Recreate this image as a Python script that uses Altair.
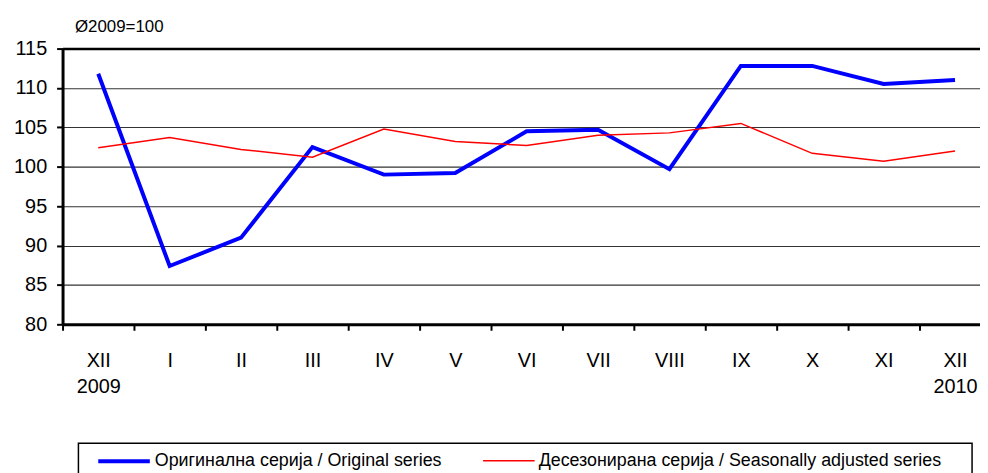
import json
import altair as alt
import pandas as pd

# ---- data ----
months = ["XII", "I", "II", "III", "IV", "V", "VI", "VII", "VIII", "IX", "X", "XI", "XII"]
years = {0: "2009", 12: "2010"}
original = [111.8, 87.4, 91.0, 102.5, 99.0, 99.2, 104.5, 104.7, 99.7, 112.8, 112.8, 110.5, 111.0]
adjusted = [102.4, 103.7, 102.2, 101.2, 104.8, 103.2, 102.7, 104.0, 104.3, 105.5, 101.7, 100.7, 102.0]
series_names = ["Оригинална серија / Original series",
                "Десезонирана серија / Seasonally adjusted series"]
y_ticks = [80, 85, 90, 95, 100, 105, 110, 115]
base_label = "Ø2009=100"

rows = []
for i, (o, a) in enumerate(zip(original, adjusted)):
    rows.append({"idx": i, "value": o, "series": series_names[0]})
    rows.append({"idx": i, "value": a, "series": series_names[1]})
df = pd.DataFrame(rows)

labels = [[m, years[i]] if i in years else m for i, m in enumerate(months)]
label_expr = json.dumps(labels, ensure_ascii=False) + "[round(datum.value + 0.5)]"

FONT = "Liberation Sans"

x_enc = alt.X(
    "idx:Q",
    scale=alt.Scale(domain=[-0.5, 12.35], nice=False, zero=False),
    axis=alt.Axis(
        values=[i - 0.5 for i in range(len(months))],
        labelExpr=label_expr,
        labelOffset=36,
        title=None,
        grid=False,
        tickSize=6,
        tickColor="black",
        tickWidth=2,
        domainColor="black",
        domainWidth=3,
        labelPadding=21,
        labelFontSize=20,
        labelLineHeight=26,
        labelColor="black",
        labelFont=FONT,
        labelFlush=False,
        labelOverlap=False,
        labelBound=False,
    ),
)

y_enc = alt.Y(
    "value:Q",
    scale=alt.Scale(domain=[80, 115], nice=False, zero=False),
    axis=alt.Axis(
        values=y_ticks,
        title=base_label,
        titleAngle=0,
        titleX=12,
        titleY=-22,
        titleAlign="left",
        titleBaseline="middle",
        titleFontSize=17,
        titleFontWeight="normal",
        titleFont=FONT,
        titleColor="black",
        grid=True,
        gridColor={"condition": {"test": "datum.value === 115", "value": "black"}, "value": "#333333"},
        gridWidth={"condition": {"test": "datum.value === 115", "value": 2.5}, "value": 1.1},
        tickSize=6,
        tickColor="black",
        tickWidth=2,
        domainColor="black",
        domainWidth=3,
        labelPadding=10,
        labelFontSize=20,
        labelColor="black",
        labelFont=FONT,
    ),
)

color_enc = alt.Color(
    "series:N",
    scale=alt.Scale(domain=series_names, range=["#0000FF", "#FF0000"]),
    legend=alt.Legend(
        orient="none",
        legendX=16,
        legendY=398,
        direction="horizontal",
        title=None,
        padding=8,
        symbolType="M-3.25,0H3.25",
        symbolSize=256,
        symbolOffset=28,
        labelFontSize=18,
        labelFont=FONT,
        labelColor="black",
        labelOffset=21,
        columnPadding=30,
        labelLimit=600,
    ),
)
sw_enc = alt.StrokeWidth(
    "series:N",
    scale=alt.Scale(domain=series_names, range=[4, 1.5]),
)

base = alt.Chart(df).mark_line().encode(x=x_enc, y=y_enc, color=color_enc, strokeWidth=sw_enc)
blue = base.transform_filter(alt.datum.series == series_names[0])
red = base.transform_filter(alt.datum.series == series_names[1])

# frame around the legend (decoration only)
legend_frame = alt.Chart(pd.DataFrame({"frame": [0]})).mark_rect(
    filled=False, stroke="black", strokeWidth=1.5
).encode(
    x=alt.value(16), x2=alt.value(917), y=alt.value(398), y2=alt.value(445)
)

chart = alt.layer(blue, red, legend_frame).properties(
    width=925,
    height=278,
    autosize=alt.AutoSizeParams(type="none"),
    padding={"left": 55, "top": 39, "right": 0, "bottom": 148},
).configure_view(stroke=None)

chart.save("out.html", embed_options={"renderer": "svg", "actions": False})
